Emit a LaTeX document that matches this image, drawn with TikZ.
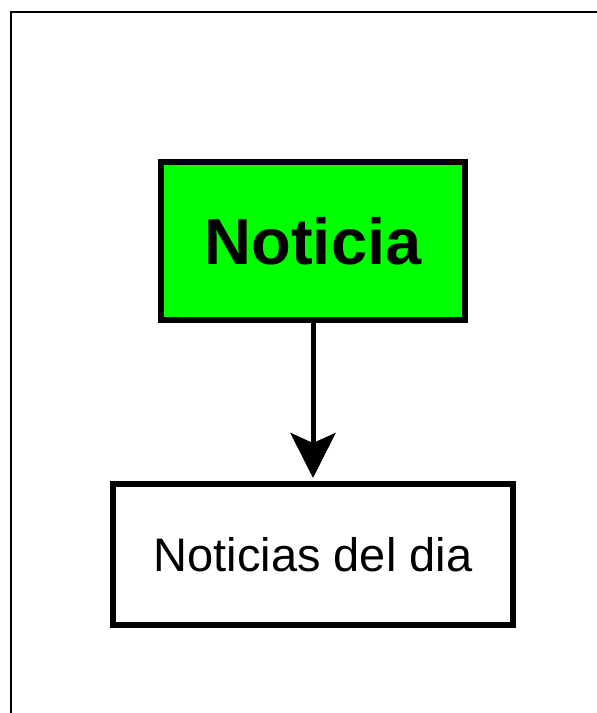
\documentclass[tikz,border=0pt]{standalone}
\usepackage{fontspec}
\setmainfont{Liberation Sans}
\usepackage{tikz}
\usetikzlibrary{arrows.meta}

\tikzset{
	caja/.style={draw=black, line width=6pt, inner sep=0pt},
	flecha/.style={line width=5pt, -{Stealth[length=45pt, width=45pt, inset=10pt]}, shorten >=3pt}
}

\begin{document}
\begin{tikzpicture}[x=1pt, y=1pt]
\useasboundingbox (0,0) rectangle (597,-713);
\fill[white] (0,0) rectangle (597,-713);

% marco
\draw [line width=2pt] (11,-713) -- (11,-12) -- (597,-12);

\node[caja, fill=green, minimum width=304pt, minimum height=158pt] (noticia) at (313,-241) {\fontsize{65}{70}\selectfont\bfseries Noticia};
\node[caja, fill=white, minimum width=400pt, minimum height=141pt] (deldia) at (313,-554.5) {\fontsize{47}{52}\selectfont Noticias del dia};

\draw [flecha] (noticia) -- (deldia);
\end{tikzpicture}
\end{document}
